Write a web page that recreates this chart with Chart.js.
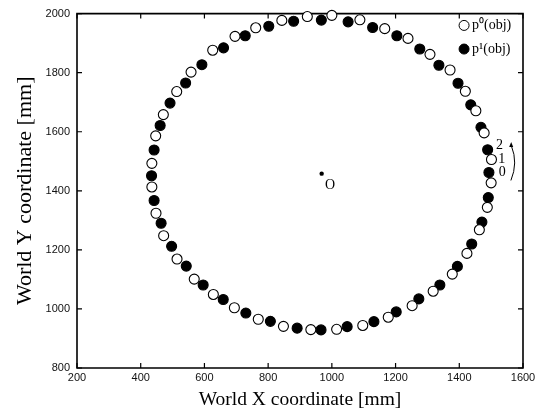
<!DOCTYPE html>
<html>
<head>
<meta charset="utf-8">
<script src="https://cdn.jsdelivr.net/npm/chart.js@4/dist/chart.umd.min.js"></script>
<style>
  html, body { margin: 0; padding: 0; background: #fff; }
  #wrap { width: 546px; height: 417px; }
</style>
</head>
<body>
<div id="wrap"><canvas id="chart"></canvas></div>
<script>
// p0(obj) - open circles
const p0X = [1501, 1500, 1488, 1463, 1424, 1378, 1318, 1252, 1177, 1097, 1015, 934, 848, 769, 694, 628, 568, 514, 472, 448,
             435, 435, 447, 471, 513, 558, 626, 696, 761, 843, 923, 1000, 1088, 1166, 1239, 1308, 1371, 1419, 1452, 1478];
const p0Y = [1506, 1427, 1344, 1268, 1188, 1118, 1060, 1011, 972, 944, 931, 930, 941, 965, 1004, 1049, 1101, 1169, 1248, 1324,
             1413, 1493, 1586, 1658, 1736, 1802, 1876, 1923, 1952, 1977, 1990, 1994, 1979, 1949, 1916, 1862, 1809, 1737, 1671, 1596];
// p1(obj) - filled circles
const p1X = [1489, 1493, 1491, 1471, 1439, 1394, 1339, 1273, 1202, 1132, 1048, 966, 891, 807, 730, 659, 596, 543, 497, 464,
             442, 434, 442, 461, 492, 541, 592, 660, 728, 802, 880, 967, 1051, 1128, 1204, 1276, 1336, 1396, 1436, 1468];
const p1Y = [1539, 1462, 1377, 1294, 1220, 1144, 1081, 1034, 990, 957, 940, 929, 935, 958, 986, 1032, 1081, 1145, 1212, 1290,
             1367, 1451, 1538, 1621, 1697, 1765, 1827, 1884, 1925, 1957, 1974, 1978, 1972, 1953, 1925, 1880, 1825, 1764, 1691, 1615];
// origin O
const originX = [968];
const originY = [1458];

const xTicks = [200, 400, 600, 800, 1000, 1200, 1400, 1600];
const yTicks = [800, 1000, 1200, 1400, 1600, 1800, 2000];

const toPoints = (xs, ys) => xs.map((x, i) => ({ x: x, y: ys[i] }));

const serif = '"Liberation Serif", "Times New Roman", serif';
const sans = '"Liberation Sans", Arial, sans-serif';

// box round the plot, ticks pointing inwards
function drawFrame(chart) {
    const { ctx, chartArea: a, scales: { x, y } } = chart;
    ctx.save();
    ctx.strokeStyle = '#000';
    ctx.lineWidth = 1.6;
    ctx.lineCap = 'square';
    ctx.beginPath();
    ctx.rect(a.left, a.top, a.right - a.left, a.bottom - a.top);
    ctx.stroke();
    ctx.lineWidth = 1.2;
    ctx.lineCap = 'butt';
    ctx.beginPath();
    xTicks.forEach(v => {
        const px = x.getPixelForValue(v);
        ctx.moveTo(px, a.bottom); ctx.lineTo(px, a.bottom - 5);
        ctx.moveTo(px, a.top); ctx.lineTo(px, a.top + 5);
    });
    yTicks.forEach(v => {
        const py = y.getPixelForValue(v);
        ctx.moveTo(a.left, py); ctx.lineTo(a.left + 5, py);
        ctx.moveTo(a.right, py); ctx.lineTo(a.right - 5, py);
    });
    ctx.stroke();
    ctx.restore();
}

const notesPlugin = {
    id: 'notes',
    beforeDatasetsDraw(chart) {
        drawFrame(chart);
    },
    afterDraw(chart) {
        const { ctx, scales: { x, y } } = chart;
        ctx.save();
        // legend
        const lx = x.getPixelForValue(1415), ly0 = y.getPixelForValue(1960), ly1 = y.getPixelForValue(1880);
        ctx.lineWidth = 1;
        ctx.strokeStyle = '#000';
        ctx.fillStyle = '#fff';
        ctx.beginPath(); ctx.arc(lx, ly0, 5, 0, Math.PI * 2); ctx.fill(); ctx.stroke();
        ctx.fillStyle = '#000';
        ctx.beginPath(); ctx.arc(lx, ly1, 5, 0, Math.PI * 2); ctx.fill(); ctx.stroke();
        ctx.font = '14px ' + serif;
        ctx.textBaseline = 'middle';
        ctx.textAlign = 'left';
        ctx.fillText('p\u2070(obj)', lx + 8, ly0);
        ctx.fillText('p\u00b9(obj)', lx + 8, ly1);

        // index labels, origin label and the arrow
        ctx.textAlign = 'center';
        ctx.fillText('2', x.getPixelForValue(1526), y.getPixelForValue(1555));
        ctx.fillText('1', x.getPixelForValue(1533), y.getPixelForValue(1505));
        ctx.fillText('0', x.getPixelForValue(1535), y.getPixelForValue(1462));
        ctx.fillText('O', x.getPixelForValue(994), y.getPixelForValue(1418));

        const ax = x.getPixelForValue(1562);
        const aTop = y.getPixelForValue(1552), aBot = y.getPixelForValue(1435);
        const cx = x.getPixelForValue(1585), cy = y.getPixelForValue(1495);
        ctx.beginPath();
        ctx.moveTo(ax, aBot);
        ctx.quadraticCurveTo(cx, cy, ax + 0.5, aTop);
        ctx.stroke();
        ctx.beginPath();
        ctx.moveTo(ax + 0.3, aTop - 4);
        ctx.lineTo(ax - 1.7, aTop + 1);
        ctx.lineTo(ax + 2.3, aTop + 1);
        ctx.closePath();
        ctx.fill();
        ctx.restore();
    }
};

const ctx = document.getElementById('chart').getContext('2d');
new Chart(ctx, {
    type: 'scatter',
    data: {
        datasets: [
            {
                label: 'p0(obj)',
                data: toPoints(p0X, p0Y),
                pointStyle: 'circle',
                pointRadius: 5,
                pointBackgroundColor: '#fff',
                pointBorderColor: '#000',
                pointBorderWidth: 1.1,
                clip: false
            },
            {
                label: 'p1(obj)',
                data: toPoints(p1X, p1Y),
                pointStyle: 'circle',
                pointRadius: 5,
                pointBackgroundColor: '#000',
                pointBorderColor: '#000',
                pointBorderWidth: 1.1,
                clip: false
            },
            {
                label: 'O',
                data: toPoints(originX, originY),
                pointRadius: 2.2,
                pointBackgroundColor: '#000',
                pointBorderColor: '#000',
                pointBorderWidth: 0
            }
        ]
    },
    options: {
        responsive: true,
        maintainAspectRatio: false,
        animation: false,
        events: [],
        layout: { autoPadding: false, padding: { top: 7, right: 23, left: 0, bottom: 0 } },
        plugins: {
            legend: { display: false },
            tooltip: { enabled: false }
        },
        scales: {
            x: {
                type: 'linear',
                min: 200,
                max: 1600,
                afterBuildTicks: s => { s.ticks = xTicks.map(v => ({ value: v })); },
                afterFit: s => { s.height = 49; },
                grid: { display: false, drawTicks: false },
                border: { display: false },
                ticks: {
                    color: '#111',
                    padding: 3,
                    maxRotation: 0,
                    callback: v => String(v),
                    font: { family: sans, size: 11 }
                },
                title: {
                    display: true,
                    text: 'World X coordinate [mm]',
                    color: '#000',
                    font: { family: serif, size: 19.5 },
                    padding: { top: 0, bottom: 5 }
                }
            },
            y: {
                type: 'linear',
                min: 800,
                max: 2000,
                afterBuildTicks: s => { s.ticks = yTicks.map(v => ({ value: v })); },
                afterFit: s => { s.width = 77; },
                grid: { display: false, drawTicks: false },
                border: { display: false },
                ticks: {
                    color: '#111',
                    padding: 7,
                    callback: v => String(v),
                    font: { family: sans, size: 11 }
                },
                title: {
                    display: true,
                    text: 'World Y coordinate [mm]',
                    color: '#000',
                    font: { family: serif, size: 22 },
                    padding: { top: 12, bottom: 0 }
                }
            }
        }
    },
    plugins: [notesPlugin]
});
</script>
</body>
</html>
